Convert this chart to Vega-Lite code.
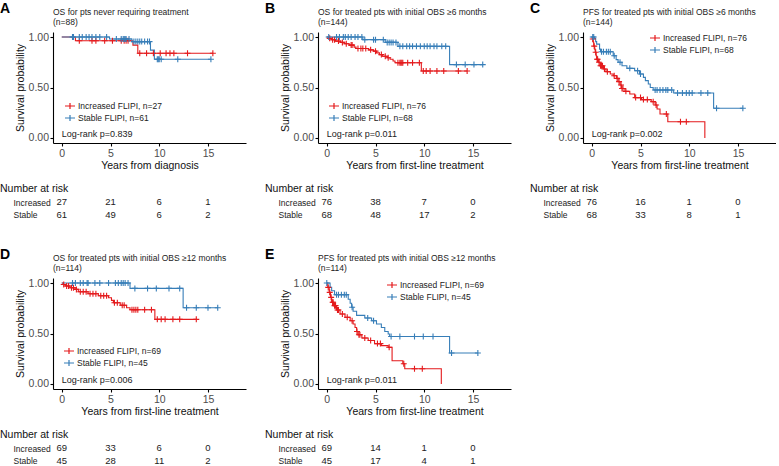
{
"$schema":"https://vega.github.io/schema/vega-lite/v6.json",
"background":"white",
"padding":{"left":0,"top":1,"right":0,"bottom":0},
"config":{
 "view":{"stroke":null},
 "font":"Liberation Sans",
 "axis":{"grid":false,"labelOverlap":false,"domainColor":"#000","tickColor":"#000","domainWidth":1.1,"tickWidth":1.1,"tickSize":3,"labelFont":"Liberation Sans","labelFontSize":10.5,"labelColor":"#4D4D4D","titleFont":"Liberation Sans","titleFontSize":10.5,"titleFontWeight":"normal","titleColor":"#111"},
 "axisX":{"labelPadding":2,"titlePadding":2},
 "axisY":{"labelPadding":1.5,"titlePadding":3},
 "legend":{"labelFont":"Liberation Sans","labelFontSize":8.5,"labelColor":"#222","symbolType":"M-1,0H1M0,-0.6V0.6","symbolSize":100,"symbolStrokeWidth":1.2,"rowPadding":0,"labelOffset":2,"padding":0},
 "title":{"font":"Liberation Sans","fontSize":8.5,"fontWeight":"normal","color":"#222","anchor":"start"}
},
"datasets":{
 "steps":[
  {"p":"A","g":"Increased FLIPI, n=27","t":0,"s":1},{"p":"A","g":"Increased FLIPI, n=27","t":1.4,"s":0.963},{"p":"A","g":"Increased FLIPI, n=27","t":7.3,"s":0.92},{"p":"A","g":"Increased FLIPI, n=27","t":7.8,"s":0.84},{"p":"A","g":"Increased FLIPI, n=27","t":15.5,"s":0.84},
  {"p":"A","g":"Stable FLIPI, n=61","t":0,"s":1},{"p":"A","g":"Stable FLIPI, n=61","t":4.9,"s":0.98},{"p":"A","g":"Stable FLIPI, n=61","t":7.2,"s":0.955},{"p":"A","g":"Stable FLIPI, n=61","t":9.1,"s":0.87},{"p":"A","g":"Stable FLIPI, n=61","t":9.5,"s":0.78},{"p":"A","g":"Stable FLIPI, n=61","t":15.3,"s":0.78},
  {"p":"B","g":"Increased FLIPI, n=76","t":0,"s":1},{"p":"B","g":"Increased FLIPI, n=76","t":0.2,"s":0.987},{"p":"B","g":"Increased FLIPI, n=76","t":0.5,"s":0.973},{"p":"B","g":"Increased FLIPI, n=76","t":0.9,"s":0.96},{"p":"B","g":"Increased FLIPI, n=76","t":1.4,"s":0.947},{"p":"B","g":"Increased FLIPI, n=76","t":1.8,"s":0.933},{"p":"B","g":"Increased FLIPI, n=76","t":2.3,"s":0.92},{"p":"B","g":"Increased FLIPI, n=76","t":2.8,"s":0.9},{"p":"B","g":"Increased FLIPI, n=76","t":3.0,"s":0.887},{"p":"B","g":"Increased FLIPI, n=76","t":4.3,"s":0.873},{"p":"B","g":"Increased FLIPI, n=76","t":4.8,"s":0.86},{"p":"B","g":"Increased FLIPI, n=76","t":5.1,"s":0.843},{"p":"B","g":"Increased FLIPI, n=76","t":5.4,"s":0.826},{"p":"B","g":"Increased FLIPI, n=76","t":5.7,"s":0.81},{"p":"B","g":"Increased FLIPI, n=76","t":6.2,"s":0.795},{"p":"B","g":"Increased FLIPI, n=76","t":6.5,"s":0.78},{"p":"B","g":"Increased FLIPI, n=76","t":6.8,"s":0.762},{"p":"B","g":"Increased FLIPI, n=76","t":7.0,"s":0.745},{"p":"B","g":"Increased FLIPI, n=76","t":9.7,"s":0.664},{"p":"B","g":"Increased FLIPI, n=76","t":14.4,"s":0.664},
  {"p":"B","g":"Stable FLIPI, n=68","t":0,"s":1},{"p":"B","g":"Stable FLIPI, n=68","t":3.7,"s":0.974},{"p":"B","g":"Stable FLIPI, n=68","t":6.0,"s":0.947},{"p":"B","g":"Stable FLIPI, n=68","t":7.3,"s":0.908},{"p":"B","g":"Stable FLIPI, n=68","t":12.6,"s":0.727},{"p":"B","g":"Stable FLIPI, n=68","t":16.0,"s":0.727},
  {"p":"C","g":"Increased FLIPI, n=76","t":0,"s":1},{"p":"C","g":"Increased FLIPI, n=76","t":0.05,"s":0.98},{"p":"C","g":"Increased FLIPI, n=76","t":0.15,"s":0.95},{"p":"C","g":"Increased FLIPI, n=76","t":0.2,"s":0.91},{"p":"C","g":"Increased FLIPI, n=76","t":0.3,"s":0.88},{"p":"C","g":"Increased FLIPI, n=76","t":0.35,"s":0.85},{"p":"C","g":"Increased FLIPI, n=76","t":0.45,"s":0.815},{"p":"C","g":"Increased FLIPI, n=76","t":0.5,"s":0.78},{"p":"C","g":"Increased FLIPI, n=76","t":0.7,"s":0.75},{"p":"C","g":"Increased FLIPI, n=76","t":0.85,"s":0.716},{"p":"C","g":"Increased FLIPI, n=76","t":1.2,"s":0.683},{"p":"C","g":"Increased FLIPI, n=76","t":1.46,"s":0.657},{"p":"C","g":"Increased FLIPI, n=76","t":1.9,"s":0.634},{"p":"C","g":"Increased FLIPI, n=76","t":2.2,"s":0.617},{"p":"C","g":"Increased FLIPI, n=76","t":2.55,"s":0.59},{"p":"C","g":"Increased FLIPI, n=76","t":2.7,"s":0.558},{"p":"C","g":"Increased FLIPI, n=76","t":2.9,"s":0.525},{"p":"C","g":"Increased FLIPI, n=76","t":3.06,"s":0.49},{"p":"C","g":"Increased FLIPI, n=76","t":3.4,"s":0.462},{"p":"C","g":"Increased FLIPI, n=76","t":3.9,"s":0.436},{"p":"C","g":"Increased FLIPI, n=76","t":4.4,"s":0.4},{"p":"C","g":"Increased FLIPI, n=76","t":5.1,"s":0.38},{"p":"C","g":"Increased FLIPI, n=76","t":6.1,"s":0.36},{"p":"C","g":"Increased FLIPI, n=76","t":6.5,"s":0.327},{"p":"C","g":"Increased FLIPI, n=76","t":6.7,"s":0.287},{"p":"C","g":"Increased FLIPI, n=76","t":7.0,"s":0.237},{"p":"C","g":"Increased FLIPI, n=76","t":7.8,"s":0.16},{"p":"C","g":"Increased FLIPI, n=76","t":11.6,"s":0},
  {"p":"C","g":"Stable FLIPI, n=68","t":0,"s":1},{"p":"C","g":"Stable FLIPI, n=68","t":0.3,"s":0.985},{"p":"C","g":"Stable FLIPI, n=68","t":0.4,"s":0.955},{"p":"C","g":"Stable FLIPI, n=68","t":0.5,"s":0.93},{"p":"C","g":"Stable FLIPI, n=68","t":0.8,"s":0.88},{"p":"C","g":"Stable FLIPI, n=68","t":0.9,"s":0.855},{"p":"C","g":"Stable FLIPI, n=68","t":2.2,"s":0.815},{"p":"C","g":"Stable FLIPI, n=68","t":2.5,"s":0.776},{"p":"C","g":"Stable FLIPI, n=68","t":2.7,"s":0.75},{"p":"C","g":"Stable FLIPI, n=68","t":3.1,"s":0.716},{"p":"C","g":"Stable FLIPI, n=68","t":3.6,"s":0.69},{"p":"C","g":"Stable FLIPI, n=68","t":4.4,"s":0.667},{"p":"C","g":"Stable FLIPI, n=68","t":4.9,"s":0.634},{"p":"C","g":"Stable FLIPI, n=68","t":5.3,"s":0.6},{"p":"C","g":"Stable FLIPI, n=68","t":5.5,"s":0.568},{"p":"C","g":"Stable FLIPI, n=68","t":5.8,"s":0.535},{"p":"C","g":"Stable FLIPI, n=68","t":6.0,"s":0.5},{"p":"C","g":"Stable FLIPI, n=68","t":6.3,"s":0.475},{"p":"C","g":"Stable FLIPI, n=68","t":8.4,"s":0.446},{"p":"C","g":"Stable FLIPI, n=68","t":12.5,"s":0.294},{"p":"C","g":"Stable FLIPI, n=68","t":15.5,"s":0.294},
  {"p":"D","g":"Increased FLIPI, n=69","t":0,"s":1},{"p":"D","g":"Increased FLIPI, n=69","t":0.15,"s":0.985},{"p":"D","g":"Increased FLIPI, n=69","t":0.35,"s":0.97},{"p":"D","g":"Increased FLIPI, n=69","t":0.85,"s":0.954},{"p":"D","g":"Increased FLIPI, n=69","t":1.37,"s":0.937},{"p":"D","g":"Increased FLIPI, n=69","t":1.7,"s":0.914},{"p":"D","g":"Increased FLIPI, n=69","t":2.7,"s":0.894},{"p":"D","g":"Increased FLIPI, n=69","t":3.75,"s":0.874},{"p":"D","g":"Increased FLIPI, n=69","t":4.8,"s":0.854},{"p":"D","g":"Increased FLIPI, n=69","t":5.1,"s":0.828},{"p":"D","g":"Increased FLIPI, n=69","t":5.3,"s":0.805},{"p":"D","g":"Increased FLIPI, n=69","t":6.0,"s":0.78},{"p":"D","g":"Increased FLIPI, n=69","t":6.65,"s":0.755},{"p":"D","g":"Increased FLIPI, n=69","t":7.0,"s":0.735},{"p":"D","g":"Increased FLIPI, n=69","t":9.55,"s":0.64},{"p":"D","g":"Increased FLIPI, n=69","t":13.8,"s":0.64},
  {"p":"D","g":"Stable FLIPI, n=45","t":0,"s":1},{"p":"D","g":"Stable FLIPI, n=45","t":7.0,"s":0.947},{"p":"D","g":"Stable FLIPI, n=45","t":12.45,"s":0.755},{"p":"D","g":"Stable FLIPI, n=45","t":16.0,"s":0.755},
  {"p":"E","g":"Increased FLIPI, n=69","t":0,"s":1},{"p":"E","g":"Increased FLIPI, n=69","t":0.1,"s":0.957},{"p":"E","g":"Increased FLIPI, n=69","t":0.25,"s":0.908},{"p":"E","g":"Increased FLIPI, n=69","t":0.38,"s":0.858},{"p":"E","g":"Increased FLIPI, n=69","t":0.5,"s":0.81},{"p":"E","g":"Increased FLIPI, n=69","t":0.7,"s":0.776},{"p":"E","g":"Increased FLIPI, n=69","t":1.0,"s":0.733},{"p":"E","g":"Increased FLIPI, n=69","t":1.36,"s":0.693},{"p":"E","g":"Increased FLIPI, n=69","t":1.87,"s":0.66},{"p":"E","g":"Increased FLIPI, n=69","t":2.4,"s":0.627},{"p":"E","g":"Increased FLIPI, n=69","t":2.7,"s":0.594},{"p":"E","g":"Increased FLIPI, n=69","t":2.9,"s":0.56},{"p":"E","g":"Increased FLIPI, n=69","t":3.06,"s":0.52},{"p":"E","g":"Increased FLIPI, n=69","t":3.2,"s":0.488},{"p":"E","g":"Increased FLIPI, n=69","t":3.6,"s":0.455},{"p":"E","g":"Increased FLIPI, n=69","t":4.25,"s":0.43},{"p":"E","g":"Increased FLIPI, n=69","t":4.9,"s":0.4},{"p":"E","g":"Increased FLIPI, n=69","t":5.6,"s":0.38},{"p":"E","g":"Increased FLIPI, n=69","t":6.3,"s":0.363},{"p":"E","g":"Increased FLIPI, n=69","t":6.7,"s":0.23},{"p":"E","g":"Increased FLIPI, n=69","t":7.8,"s":0.2},{"p":"E","g":"Increased FLIPI, n=69","t":8.0,"s":0.15},{"p":"E","g":"Increased FLIPI, n=69","t":11.75,"s":0},
  {"p":"E","g":"Stable FLIPI, n=45","t":0,"s":1},{"p":"E","g":"Stable FLIPI, n=45","t":0.34,"s":0.957},{"p":"E","g":"Stable FLIPI, n=45","t":0.5,"s":0.924},{"p":"E","g":"Stable FLIPI, n=45","t":0.8,"s":0.885},{"p":"E","g":"Stable FLIPI, n=45","t":2.2,"s":0.84},{"p":"E","g":"Stable FLIPI, n=45","t":2.4,"s":0.8},{"p":"E","g":"Stable FLIPI, n=45","t":2.55,"s":0.76},{"p":"E","g":"Stable FLIPI, n=45","t":2.7,"s":0.72},{"p":"E","g":"Stable FLIPI, n=45","t":3.06,"s":0.68},{"p":"E","g":"Stable FLIPI, n=45","t":3.9,"s":0.653},{"p":"E","g":"Stable FLIPI, n=45","t":4.6,"s":0.627},{"p":"E","g":"Stable FLIPI, n=45","t":5.1,"s":0.594},{"p":"E","g":"Stable FLIPI, n=45","t":5.6,"s":0.56},{"p":"E","g":"Stable FLIPI, n=45","t":5.95,"s":0.52},{"p":"E","g":"Stable FLIPI, n=45","t":6.3,"s":0.495},{"p":"E","g":"Stable FLIPI, n=45","t":6.45,"s":0.47},{"p":"E","g":"Stable FLIPI, n=45","t":12.6,"s":0.307},{"p":"E","g":"Stable FLIPI, n=45","t":15.5,"s":0.307}
 ],
 "censor":[
  {"p":"A","g":"Increased FLIPI, n=27","t":1.8,"s":0.963},{"p":"A","g":"Increased FLIPI, n=27","t":3.1,"s":0.963},{"p":"A","g":"Increased FLIPI, n=27","t":3.5,"s":0.963},{"p":"A","g":"Increased FLIPI, n=27","t":4.4,"s":0.963},{"p":"A","g":"Increased FLIPI, n=27","t":5.2,"s":0.963},{"p":"A","g":"Increased FLIPI, n=27","t":6.1,"s":0.963},{"p":"A","g":"Increased FLIPI, n=27","t":6.4,"s":0.963},{"p":"A","g":"Increased FLIPI, n=27","t":6.6,"s":0.963},{"p":"A","g":"Increased FLIPI, n=27","t":6.8,"s":0.963},{"p":"A","g":"Increased FLIPI, n=27","t":8.0,"s":0.84},{"p":"A","g":"Increased FLIPI, n=27","t":8.7,"s":0.84},{"p":"A","g":"Increased FLIPI, n=27","t":9.4,"s":0.84},{"p":"A","g":"Increased FLIPI, n=27","t":10.1,"s":0.84},{"p":"A","g":"Increased FLIPI, n=27","t":10.7,"s":0.84},{"p":"A","g":"Increased FLIPI, n=27","t":11.1,"s":0.84},{"p":"A","g":"Increased FLIPI, n=27","t":11.5,"s":0.84},{"p":"A","g":"Increased FLIPI, n=27","t":12.9,"s":0.84},{"p":"A","g":"Increased FLIPI, n=27","t":15.5,"s":0.84},
  {"p":"A","g":"Stable FLIPI, n=61","t":1.1,"s":1},{"p":"A","g":"Stable FLIPI, n=61","t":1.2,"s":1},{"p":"A","g":"Stable FLIPI, n=61","t":1.8,"s":1},{"p":"A","g":"Stable FLIPI, n=61","t":2.1,"s":1},{"p":"A","g":"Stable FLIPI, n=61","t":2.5,"s":1},{"p":"A","g":"Stable FLIPI, n=61","t":2.8,"s":1},{"p":"A","g":"Stable FLIPI, n=61","t":3.1,"s":1},{"p":"A","g":"Stable FLIPI, n=61","t":3.5,"s":1},{"p":"A","g":"Stable FLIPI, n=61","t":3.9,"s":1},{"p":"A","g":"Stable FLIPI, n=61","t":4.6,"s":1},{"p":"A","g":"Stable FLIPI, n=61","t":5.6,"s":0.98},{"p":"A","g":"Stable FLIPI, n=61","t":6.1,"s":0.98},{"p":"A","g":"Stable FLIPI, n=61","t":6.3,"s":0.98},{"p":"A","g":"Stable FLIPI, n=61","t":6.4,"s":0.98},{"p":"A","g":"Stable FLIPI, n=61","t":6.5,"s":0.98},{"p":"A","g":"Stable FLIPI, n=61","t":6.6,"s":0.98},{"p":"A","g":"Stable FLIPI, n=61","t":6.9,"s":0.98},{"p":"A","g":"Stable FLIPI, n=61","t":7.4,"s":0.955},{"p":"A","g":"Stable FLIPI, n=61","t":7.6,"s":0.955},{"p":"A","g":"Stable FLIPI, n=61","t":7.8,"s":0.955},{"p":"A","g":"Stable FLIPI, n=61","t":8.0,"s":0.955},{"p":"A","g":"Stable FLIPI, n=61","t":8.2,"s":0.955},{"p":"A","g":"Stable FLIPI, n=61","t":8.5,"s":0.955},{"p":"A","g":"Stable FLIPI, n=61","t":8.8,"s":0.955},{"p":"A","g":"Stable FLIPI, n=61","t":9.0,"s":0.955},{"p":"A","g":"Stable FLIPI, n=61","t":9.8,"s":0.78},{"p":"A","g":"Stable FLIPI, n=61","t":9.9,"s":0.78},{"p":"A","g":"Stable FLIPI, n=61","t":10.0,"s":0.78},{"p":"A","g":"Stable FLIPI, n=61","t":10.2,"s":0.78},{"p":"A","g":"Stable FLIPI, n=61","t":11.9,"s":0.78},{"p":"A","g":"Stable FLIPI, n=61","t":15.3,"s":0.78},
  {"p":"B","g":"Increased FLIPI, n=76","t":0.3,"s":0.987},{"p":"B","g":"Increased FLIPI, n=76","t":0.6,"s":0.973},{"p":"B","g":"Increased FLIPI, n=76","t":0.8,"s":0.973},{"p":"B","g":"Increased FLIPI, n=76","t":1.2,"s":0.96},{"p":"B","g":"Increased FLIPI, n=76","t":1.6,"s":0.947},{"p":"B","g":"Increased FLIPI, n=76","t":2.0,"s":0.933},{"p":"B","g":"Increased FLIPI, n=76","t":2.5,"s":0.92},{"p":"B","g":"Increased FLIPI, n=76","t":2.6,"s":0.92},{"p":"B","g":"Increased FLIPI, n=76","t":3.2,"s":0.887},{"p":"B","g":"Increased FLIPI, n=76","t":3.5,"s":0.887},{"p":"B","g":"Increased FLIPI, n=76","t":3.7,"s":0.887},{"p":"B","g":"Increased FLIPI, n=76","t":4.0,"s":0.887},{"p":"B","g":"Increased FLIPI, n=76","t":4.5,"s":0.873},{"p":"B","g":"Increased FLIPI, n=76","t":5.0,"s":0.86},{"p":"B","g":"Increased FLIPI, n=76","t":5.6,"s":0.826},{"p":"B","g":"Increased FLIPI, n=76","t":6.0,"s":0.81},{"p":"B","g":"Increased FLIPI, n=76","t":6.3,"s":0.795},{"p":"B","g":"Increased FLIPI, n=76","t":7.3,"s":0.745},{"p":"B","g":"Increased FLIPI, n=76","t":7.5,"s":0.745},{"p":"B","g":"Increased FLIPI, n=76","t":7.6,"s":0.745},{"p":"B","g":"Increased FLIPI, n=76","t":7.7,"s":0.745},{"p":"B","g":"Increased FLIPI, n=76","t":7.8,"s":0.745},{"p":"B","g":"Increased FLIPI, n=76","t":8.3,"s":0.745},{"p":"B","g":"Increased FLIPI, n=76","t":8.8,"s":0.745},{"p":"B","g":"Increased FLIPI, n=76","t":9.5,"s":0.745},{"p":"B","g":"Increased FLIPI, n=76","t":9.9,"s":0.664},{"p":"B","g":"Increased FLIPI, n=76","t":10.2,"s":0.664},{"p":"B","g":"Increased FLIPI, n=76","t":10.6,"s":0.664},{"p":"B","g":"Increased FLIPI, n=76","t":11.3,"s":0.664},{"p":"B","g":"Increased FLIPI, n=76","t":12.0,"s":0.664},{"p":"B","g":"Increased FLIPI, n=76","t":13.5,"s":0.664},{"p":"B","g":"Increased FLIPI, n=76","t":14.4,"s":0.664},
  {"p":"B","g":"Stable FLIPI, n=68","t":0.2,"s":1},{"p":"B","g":"Stable FLIPI, n=68","t":1.0,"s":1},{"p":"B","g":"Stable FLIPI, n=68","t":1.3,"s":1},{"p":"B","g":"Stable FLIPI, n=68","t":1.7,"s":1},{"p":"B","g":"Stable FLIPI, n=68","t":1.9,"s":1},{"p":"B","g":"Stable FLIPI, n=68","t":2.2,"s":1},{"p":"B","g":"Stable FLIPI, n=68","t":2.5,"s":1},{"p":"B","g":"Stable FLIPI, n=68","t":2.9,"s":1},{"p":"B","g":"Stable FLIPI, n=68","t":3.2,"s":1},{"p":"B","g":"Stable FLIPI, n=68","t":3.6,"s":1},{"p":"B","g":"Stable FLIPI, n=68","t":3.9,"s":0.974},{"p":"B","g":"Stable FLIPI, n=68","t":4.8,"s":0.974},{"p":"B","g":"Stable FLIPI, n=68","t":5.0,"s":0.974},{"p":"B","g":"Stable FLIPI, n=68","t":5.8,"s":0.974},{"p":"B","g":"Stable FLIPI, n=68","t":6.2,"s":0.947},{"p":"B","g":"Stable FLIPI, n=68","t":6.4,"s":0.947},{"p":"B","g":"Stable FLIPI, n=68","t":6.6,"s":0.947},{"p":"B","g":"Stable FLIPI, n=68","t":6.8,"s":0.947},{"p":"B","g":"Stable FLIPI, n=68","t":7.1,"s":0.947},{"p":"B","g":"Stable FLIPI, n=68","t":7.5,"s":0.908},{"p":"B","g":"Stable FLIPI, n=68","t":7.8,"s":0.908},{"p":"B","g":"Stable FLIPI, n=68","t":8.2,"s":0.908},{"p":"B","g":"Stable FLIPI, n=68","t":8.5,"s":0.908},{"p":"B","g":"Stable FLIPI, n=68","t":8.8,"s":0.908},{"p":"B","g":"Stable FLIPI, n=68","t":9.2,"s":0.908},{"p":"B","g":"Stable FLIPI, n=68","t":9.6,"s":0.908},{"p":"B","g":"Stable FLIPI, n=68","t":10.0,"s":0.908},{"p":"B","g":"Stable FLIPI, n=68","t":10.3,"s":0.908},{"p":"B","g":"Stable FLIPI, n=68","t":10.6,"s":0.908},{"p":"B","g":"Stable FLIPI, n=68","t":11.0,"s":0.908},{"p":"B","g":"Stable FLIPI, n=68","t":11.3,"s":0.908},{"p":"B","g":"Stable FLIPI, n=68","t":11.8,"s":0.908},{"p":"B","g":"Stable FLIPI, n=68","t":12.2,"s":0.908},{"p":"B","g":"Stable FLIPI, n=68","t":13.3,"s":0.727},{"p":"B","g":"Stable FLIPI, n=68","t":14.2,"s":0.727},{"p":"B","g":"Stable FLIPI, n=68","t":15.1,"s":0.727},{"p":"B","g":"Stable FLIPI, n=68","t":16.0,"s":0.727},
  {"p":"C","g":"Increased FLIPI, n=76","t":0.1,"s":0.98},{"p":"C","g":"Increased FLIPI, n=76","t":0.25,"s":0.91},{"p":"C","g":"Increased FLIPI, n=76","t":0.4,"s":0.85},{"p":"C","g":"Increased FLIPI, n=76","t":0.55,"s":0.78},{"p":"C","g":"Increased FLIPI, n=76","t":0.6,"s":0.78},{"p":"C","g":"Increased FLIPI, n=76","t":0.75,"s":0.75},{"p":"C","g":"Increased FLIPI, n=76","t":0.9,"s":0.716},{"p":"C","g":"Increased FLIPI, n=76","t":1.0,"s":0.716},{"p":"C","g":"Increased FLIPI, n=76","t":1.1,"s":0.716},{"p":"C","g":"Increased FLIPI, n=76","t":1.3,"s":0.683},{"p":"C","g":"Increased FLIPI, n=76","t":1.6,"s":0.657},{"p":"C","g":"Increased FLIPI, n=76","t":2.3,"s":0.617},{"p":"C","g":"Increased FLIPI, n=76","t":2.6,"s":0.59},{"p":"C","g":"Increased FLIPI, n=76","t":2.8,"s":0.558},{"p":"C","g":"Increased FLIPI, n=76","t":3.0,"s":0.525},{"p":"C","g":"Increased FLIPI, n=76","t":3.1,"s":0.49},{"p":"C","g":"Increased FLIPI, n=76","t":3.2,"s":0.49},{"p":"C","g":"Increased FLIPI, n=76","t":3.5,"s":0.462},{"p":"C","g":"Increased FLIPI, n=76","t":4.5,"s":0.4},{"p":"C","g":"Increased FLIPI, n=76","t":5.0,"s":0.4},{"p":"C","g":"Increased FLIPI, n=76","t":5.3,"s":0.38},{"p":"C","g":"Increased FLIPI, n=76","t":5.7,"s":0.38},{"p":"C","g":"Increased FLIPI, n=76","t":6.3,"s":0.36},{"p":"C","g":"Increased FLIPI, n=76","t":6.6,"s":0.327},{"p":"C","g":"Increased FLIPI, n=76","t":7.65,"s":0.237},{"p":"C","g":"Increased FLIPI, n=76","t":9.1,"s":0.16},{"p":"C","g":"Increased FLIPI, n=76","t":9.7,"s":0.16},
  {"p":"C","g":"Stable FLIPI, n=68","t":0.1,"s":1},{"p":"C","g":"Stable FLIPI, n=68","t":0.2,"s":1},{"p":"C","g":"Stable FLIPI, n=68","t":1.0,"s":0.855},{"p":"C","g":"Stable FLIPI, n=68","t":1.2,"s":0.855},{"p":"C","g":"Stable FLIPI, n=68","t":1.5,"s":0.855},{"p":"C","g":"Stable FLIPI, n=68","t":1.7,"s":0.855},{"p":"C","g":"Stable FLIPI, n=68","t":1.9,"s":0.855},{"p":"C","g":"Stable FLIPI, n=68","t":2.3,"s":0.815},{"p":"C","g":"Stable FLIPI, n=68","t":2.9,"s":0.75},{"p":"C","g":"Stable FLIPI, n=68","t":3.9,"s":0.69},{"p":"C","g":"Stable FLIPI, n=68","t":4.7,"s":0.667},{"p":"C","g":"Stable FLIPI, n=68","t":5.0,"s":0.634},{"p":"C","g":"Stable FLIPI, n=68","t":6.5,"s":0.475},{"p":"C","g":"Stable FLIPI, n=68","t":6.7,"s":0.475},{"p":"C","g":"Stable FLIPI, n=68","t":7.0,"s":0.475},{"p":"C","g":"Stable FLIPI, n=68","t":7.3,"s":0.475},{"p":"C","g":"Stable FLIPI, n=68","t":7.6,"s":0.475},{"p":"C","g":"Stable FLIPI, n=68","t":7.8,"s":0.475},{"p":"C","g":"Stable FLIPI, n=68","t":8.2,"s":0.475},{"p":"C","g":"Stable FLIPI, n=68","t":8.8,"s":0.446},{"p":"C","g":"Stable FLIPI, n=68","t":9.3,"s":0.446},{"p":"C","g":"Stable FLIPI, n=68","t":9.7,"s":0.446},{"p":"C","g":"Stable FLIPI, n=68","t":10.0,"s":0.446},{"p":"C","g":"Stable FLIPI, n=68","t":10.3,"s":0.446},{"p":"C","g":"Stable FLIPI, n=68","t":11.2,"s":0.446},{"p":"C","g":"Stable FLIPI, n=68","t":11.9,"s":0.446},{"p":"C","g":"Stable FLIPI, n=68","t":12.8,"s":0.294},{"p":"C","g":"Stable FLIPI, n=68","t":15.5,"s":0.294},
  {"p":"D","g":"Increased FLIPI, n=69","t":0.2,"s":0.985},{"p":"D","g":"Increased FLIPI, n=69","t":0.5,"s":0.97},{"p":"D","g":"Increased FLIPI, n=69","t":0.7,"s":0.97},{"p":"D","g":"Increased FLIPI, n=69","t":1.0,"s":0.954},{"p":"D","g":"Increased FLIPI, n=69","t":1.2,"s":0.954},{"p":"D","g":"Increased FLIPI, n=69","t":1.5,"s":0.937},{"p":"D","g":"Increased FLIPI, n=69","t":1.9,"s":0.914},{"p":"D","g":"Increased FLIPI, n=69","t":2.2,"s":0.914},{"p":"D","g":"Increased FLIPI, n=69","t":2.5,"s":0.914},{"p":"D","g":"Increased FLIPI, n=69","t":2.9,"s":0.894},{"p":"D","g":"Increased FLIPI, n=69","t":3.2,"s":0.894},{"p":"D","g":"Increased FLIPI, n=69","t":3.5,"s":0.894},{"p":"D","g":"Increased FLIPI, n=69","t":4.0,"s":0.874},{"p":"D","g":"Increased FLIPI, n=69","t":4.3,"s":0.874},{"p":"D","g":"Increased FLIPI, n=69","t":4.6,"s":0.874},{"p":"D","g":"Increased FLIPI, n=69","t":5.4,"s":0.805},{"p":"D","g":"Increased FLIPI, n=69","t":5.7,"s":0.805},{"p":"D","g":"Increased FLIPI, n=69","t":6.2,"s":0.78},{"p":"D","g":"Increased FLIPI, n=69","t":6.4,"s":0.78},{"p":"D","g":"Increased FLIPI, n=69","t":7.2,"s":0.735},{"p":"D","g":"Increased FLIPI, n=69","t":7.4,"s":0.735},{"p":"D","g":"Increased FLIPI, n=69","t":7.6,"s":0.735},{"p":"D","g":"Increased FLIPI, n=69","t":7.8,"s":0.735},{"p":"D","g":"Increased FLIPI, n=69","t":8.5,"s":0.735},{"p":"D","g":"Increased FLIPI, n=69","t":9.2,"s":0.735},{"p":"D","g":"Increased FLIPI, n=69","t":9.8,"s":0.64},{"p":"D","g":"Increased FLIPI, n=69","t":10.2,"s":0.64},{"p":"D","g":"Increased FLIPI, n=69","t":10.6,"s":0.64},{"p":"D","g":"Increased FLIPI, n=69","t":11.4,"s":0.64},{"p":"D","g":"Increased FLIPI, n=69","t":12.1,"s":0.64},{"p":"D","g":"Increased FLIPI, n=69","t":13.8,"s":0.64},
  {"p":"D","g":"Stable FLIPI, n=45","t":1.1,"s":1},{"p":"D","g":"Stable FLIPI, n=45","t":1.4,"s":1},{"p":"D","g":"Stable FLIPI, n=45","t":1.9,"s":1},{"p":"D","g":"Stable FLIPI, n=45","t":2.2,"s":1},{"p":"D","g":"Stable FLIPI, n=45","t":2.6,"s":1},{"p":"D","g":"Stable FLIPI, n=45","t":2.7,"s":1},{"p":"D","g":"Stable FLIPI, n=45","t":3.4,"s":1},{"p":"D","g":"Stable FLIPI, n=45","t":3.9,"s":1},{"p":"D","g":"Stable FLIPI, n=45","t":4.8,"s":1},{"p":"D","g":"Stable FLIPI, n=45","t":5.5,"s":1},{"p":"D","g":"Stable FLIPI, n=45","t":5.8,"s":1},{"p":"D","g":"Stable FLIPI, n=45","t":6.1,"s":1},{"p":"D","g":"Stable FLIPI, n=45","t":6.3,"s":1},{"p":"D","g":"Stable FLIPI, n=45","t":6.5,"s":1},{"p":"D","g":"Stable FLIPI, n=45","t":6.8,"s":1},{"p":"D","g":"Stable FLIPI, n=45","t":7.5,"s":0.947},{"p":"D","g":"Stable FLIPI, n=45","t":8.8,"s":0.947},{"p":"D","g":"Stable FLIPI, n=45","t":9.7,"s":0.947},{"p":"D","g":"Stable FLIPI, n=45","t":11.0,"s":0.947},{"p":"D","g":"Stable FLIPI, n=45","t":12.1,"s":0.947},{"p":"D","g":"Stable FLIPI, n=45","t":12.8,"s":0.755},{"p":"D","g":"Stable FLIPI, n=45","t":13.8,"s":0.755},{"p":"D","g":"Stable FLIPI, n=45","t":15.0,"s":0.755},{"p":"D","g":"Stable FLIPI, n=45","t":16.0,"s":0.755},
  {"p":"E","g":"Increased FLIPI, n=69","t":0.15,"s":0.957},{"p":"E","g":"Increased FLIPI, n=69","t":0.3,"s":0.908},{"p":"E","g":"Increased FLIPI, n=69","t":0.45,"s":0.858},{"p":"E","g":"Increased FLIPI, n=69","t":0.6,"s":0.81},{"p":"E","g":"Increased FLIPI, n=69","t":0.65,"s":0.81},{"p":"E","g":"Increased FLIPI, n=69","t":0.8,"s":0.776},{"p":"E","g":"Increased FLIPI, n=69","t":0.9,"s":0.776},{"p":"E","g":"Increased FLIPI, n=69","t":1.1,"s":0.733},{"p":"E","g":"Increased FLIPI, n=69","t":1.2,"s":0.733},{"p":"E","g":"Increased FLIPI, n=69","t":1.6,"s":0.693},{"p":"E","g":"Increased FLIPI, n=69","t":2.1,"s":0.66},{"p":"E","g":"Increased FLIPI, n=69","t":2.6,"s":0.627},{"p":"E","g":"Increased FLIPI, n=69","t":3.1,"s":0.52},{"p":"E","g":"Increased FLIPI, n=69","t":3.3,"s":0.488},{"p":"E","g":"Increased FLIPI, n=69","t":3.4,"s":0.488},{"p":"E","g":"Increased FLIPI, n=69","t":3.9,"s":0.455},{"p":"E","g":"Increased FLIPI, n=69","t":4.5,"s":0.43},{"p":"E","g":"Increased FLIPI, n=69","t":5.2,"s":0.4},{"p":"E","g":"Increased FLIPI, n=69","t":5.5,"s":0.4},{"p":"E","g":"Increased FLIPI, n=69","t":6.4,"s":0.363},{"p":"E","g":"Increased FLIPI, n=69","t":7.9,"s":0.2},{"p":"E","g":"Increased FLIPI, n=69","t":9.0,"s":0.15},{"p":"E","g":"Increased FLIPI, n=69","t":9.8,"s":0.15},
  {"p":"E","g":"Stable FLIPI, n=45","t":0.0,"s":1},{"p":"E","g":"Stable FLIPI, n=45","t":1.0,"s":0.885},{"p":"E","g":"Stable FLIPI, n=45","t":1.2,"s":0.885},{"p":"E","g":"Stable FLIPI, n=45","t":1.5,"s":0.885},{"p":"E","g":"Stable FLIPI, n=45","t":1.8,"s":0.885},{"p":"E","g":"Stable FLIPI, n=45","t":2.0,"s":0.885},{"p":"E","g":"Stable FLIPI, n=45","t":2.6,"s":0.76},{"p":"E","g":"Stable FLIPI, n=45","t":4.2,"s":0.653},{"p":"E","g":"Stable FLIPI, n=45","t":4.8,"s":0.627},{"p":"E","g":"Stable FLIPI, n=45","t":6.6,"s":0.47},{"p":"E","g":"Stable FLIPI, n=45","t":7.5,"s":0.47},{"p":"E","g":"Stable FLIPI, n=45","t":9.0,"s":0.47},{"p":"E","g":"Stable FLIPI, n=45","t":9.9,"s":0.47},{"p":"E","g":"Stable FLIPI, n=45","t":10.9,"s":0.47},{"p":"E","g":"Stable FLIPI, n=45","t":12.8,"s":0.307},{"p":"E","g":"Stable FLIPI, n=45","t":15.5,"s":0.307}
 ],
 "notes":[
  {"p":"A","label":"Log-rank p=0.839"},{"p":"B","label":"Log-rank p=0.011"},{"p":"C","label":"Log-rank p=0.002"},{"p":"D","label":"Log-rank p=0.006"},{"p":"E","label":"Log-rank p=0.011"}
 ],
 "risk":[
  {"p":"A","grp":"Increased","t":0,"n":27},{"p":"A","grp":"Increased","t":5,"n":21},{"p":"A","grp":"Increased","t":10,"n":6},{"p":"A","grp":"Increased","t":15,"n":1},
  {"p":"A","grp":"Stable","t":0,"n":61},{"p":"A","grp":"Stable","t":5,"n":49},{"p":"A","grp":"Stable","t":10,"n":6},{"p":"A","grp":"Stable","t":15,"n":2},
  {"p":"B","grp":"Increased","t":0,"n":76},{"p":"B","grp":"Increased","t":5,"n":38},{"p":"B","grp":"Increased","t":10,"n":7},{"p":"B","grp":"Increased","t":15,"n":0},
  {"p":"B","grp":"Stable","t":0,"n":68},{"p":"B","grp":"Stable","t":5,"n":48},{"p":"B","grp":"Stable","t":10,"n":17},{"p":"B","grp":"Stable","t":15,"n":2},
  {"p":"C","grp":"Increased","t":0,"n":76},{"p":"C","grp":"Increased","t":5,"n":16},{"p":"C","grp":"Increased","t":10,"n":1},{"p":"C","grp":"Increased","t":15,"n":0},
  {"p":"C","grp":"Stable","t":0,"n":68},{"p":"C","grp":"Stable","t":5,"n":33},{"p":"C","grp":"Stable","t":10,"n":8},{"p":"C","grp":"Stable","t":15,"n":1},
  {"p":"D","grp":"Increased","t":0,"n":69},{"p":"D","grp":"Increased","t":5,"n":33},{"p":"D","grp":"Increased","t":10,"n":6},{"p":"D","grp":"Increased","t":15,"n":0},
  {"p":"D","grp":"Stable","t":0,"n":45},{"p":"D","grp":"Stable","t":5,"n":28},{"p":"D","grp":"Stable","t":10,"n":11},{"p":"D","grp":"Stable","t":15,"n":2},
  {"p":"E","grp":"Increased","t":0,"n":69},{"p":"E","grp":"Increased","t":5,"n":14},{"p":"E","grp":"Increased","t":10,"n":1},{"p":"E","grp":"Increased","t":15,"n":0},
  {"p":"E","grp":"Stable","t":0,"n":45},{"p":"E","grp":"Stable","t":5,"n":17},{"p":"E","grp":"Stable","t":10,"n":4},{"p":"E","grp":"Stable","t":15,"n":1}
 ]
},
"spacing":26,
"resolve":{"scale":{"color":"independent"}},
"vconcat":[
 {"spacing":19,"resolve":{"scale":{"color":"independent"}},"hconcat":[
  {"title":{"text":"A","frame":"bounds","fontSize":14,"fontWeight":"bold","color":"#000","offset":-19,"baseline":"alphabetic"},"spacing":12,"vconcat":[
   {"width":193,"height":111,"title":{"text":["OS for pts never requiring treatment","(n=88)"],"frame":"group","lineHeight":10.5,"offset":5},
    "layer":[
     {"data":{"name":"steps"},"transform":[{"filter":"datum.p==='A'"}],"mark":{"type":"line","interpolate":"step-after","strokeWidth":1.1},
      "encoding":{"x":{"field":"t","type":"quantitative","scale":{"domain":[-0.9,18.9],"nice":false,"zero":false},"axis":{"values":[0,5,10,15],"title":"Years from diagnosis"}},
       "y":{"field":"s","type":"quantitative","scale":{"domain":[-0.05,1.05],"nice":false,"zero":false},"axis":{"values":[0,0.25,0.5,0.75,1],"format":".2f","title":"Survival probability"}},
       "color":{"field":"g","type":"nominal","scale":{"range":["#E41A1C","#377EB8"]},"legend":{"title":null,"orient":"none","legendX":11,"legendY":68}}}},
     {"data":{"name":"censor"},"transform":[{"filter":"datum.p==='A'"}],"mark":{"type":"point","shape":"M-1,0H1M0,-1V1","filled":false,"size":36,"strokeWidth":1.1,"opacity":1},
      "encoding":{"x":{"field":"t","type":"quantitative"},"y":{"field":"s","type":"quantitative"},"color":{"field":"g","type":"nominal"}}},
     {"data":{"name":"notes"},"transform":[{"filter":"datum.p==='A'"}],"mark":{"type":"text","align":"left","baseline":"middle","fontSize":9,"font":"Liberation Sans","color":"#222"},
      "encoding":{"x":{"datum":0},"y":{"datum":0.04},"text":{"field":"label"}}}
    ]},
   {"width":193,"height":25,"data":{"name":"risk"},"transform":[{"filter":"datum.p==='A'"}],
    "title":{"text":"Number at risk","frame":"bounds","fontSize":10.5,"color":"#111","offset":2,"dx":-13},
    "mark":{"type":"text","fontSize":9.5,"font":"Liberation Sans","color":"#222"},
    "encoding":{"x":{"field":"t","type":"quantitative","scale":{"domain":[-0.9,18.9],"nice":false,"zero":false},"axis":null},
     "y":{"field":"grp","type":"nominal","sort":["Increased","Stable"],"scale":{"type":"point","padding":0.5},"axis":{"title":null,"domain":false,"ticks":false,"tickSize":0,"labelAlign":"left","labelPadding":40,"labelFontSize":8.5,"labelColor":"#222"}},
     "text":{"field":"n","type":"quantitative"}}}
  ]},
  {"title":{"text":"B","frame":"bounds","fontSize":14,"fontWeight":"bold","color":"#000","offset":-19,"baseline":"alphabetic"},"spacing":12,"vconcat":[
   {"width":193,"height":111,"title":{"text":["OS for treated pts with initial OBS ≥6 months","(n=144)"],"frame":"group","lineHeight":10.5,"offset":5},
    "layer":[
     {"data":{"name":"steps"},"transform":[{"filter":"datum.p==='B'"}],"mark":{"type":"line","interpolate":"step-after","strokeWidth":1.1},
      "encoding":{"x":{"field":"t","type":"quantitative","scale":{"domain":[-0.9,18.9],"nice":false,"zero":false},"axis":{"values":[0,5,10,15],"title":"Years from first-line treatment"}},
       "y":{"field":"s","type":"quantitative","scale":{"domain":[-0.05,1.05],"nice":false,"zero":false},"axis":{"values":[0,0.25,0.5,0.75,1],"format":".2f","title":"Survival probability"}},
       "color":{"field":"g","type":"nominal","scale":{"range":["#E41A1C","#377EB8"]},"legend":{"title":null,"orient":"none","legendX":10,"legendY":68}}}},
     {"data":{"name":"censor"},"transform":[{"filter":"datum.p==='B'"}],"mark":{"type":"point","shape":"M-1,0H1M0,-1V1","filled":false,"size":36,"strokeWidth":1.1,"opacity":1},
      "encoding":{"x":{"field":"t","type":"quantitative"},"y":{"field":"s","type":"quantitative"},"color":{"field":"g","type":"nominal"}}},
     {"data":{"name":"notes"},"transform":[{"filter":"datum.p==='B'"}],"mark":{"type":"text","align":"left","baseline":"middle","fontSize":9,"font":"Liberation Sans","color":"#222"},
      "encoding":{"x":{"datum":0},"y":{"datum":0.04},"text":{"field":"label"}}}
    ]},
   {"width":193,"height":25,"data":{"name":"risk"},"transform":[{"filter":"datum.p==='B'"}],
    "title":{"text":"Number at risk","frame":"bounds","fontSize":10.5,"color":"#111","offset":2,"dx":-13},
    "mark":{"type":"text","fontSize":9.5,"font":"Liberation Sans","color":"#222"},
    "encoding":{"x":{"field":"t","type":"quantitative","scale":{"domain":[-0.9,18.9],"nice":false,"zero":false},"axis":null},
     "y":{"field":"grp","type":"nominal","sort":["Increased","Stable"],"scale":{"type":"point","padding":0.5},"axis":{"title":null,"domain":false,"ticks":false,"tickSize":0,"labelAlign":"left","labelPadding":40,"labelFontSize":8.5,"labelColor":"#222"}},
     "text":{"field":"n","type":"quantitative"}}}
  ]},
  {"title":{"text":"C","frame":"bounds","fontSize":14,"fontWeight":"bold","color":"#000","offset":-19,"baseline":"alphabetic"},"spacing":12,"vconcat":[
   {"width":193,"height":111,"title":{"text":["PFS for treated pts with initial OBS ≥6 months","(n=144)"],"frame":"group","lineHeight":10.5,"offset":5},
    "layer":[
     {"data":{"name":"steps"},"transform":[{"filter":"datum.p==='C'"}],"mark":{"type":"line","interpolate":"step-after","strokeWidth":1.1},
      "encoding":{"x":{"field":"t","type":"quantitative","scale":{"domain":[-0.9,18.9],"nice":false,"zero":false},"axis":{"values":[0,5,10,15],"title":"Years from first-line treatment"}},
       "y":{"field":"s","type":"quantitative","scale":{"domain":[-0.05,1.05],"nice":false,"zero":false},"axis":{"values":[0,0.25,0.5,0.75,1],"format":".2f","title":"Survival probability"}},
       "color":{"field":"g","type":"nominal","scale":{"range":["#E41A1C","#377EB8"]},"legend":{"title":null,"orient":"none","legendX":66,"legendY":0}}}},
     {"data":{"name":"censor"},"transform":[{"filter":"datum.p==='C'"}],"mark":{"type":"point","shape":"M-1,0H1M0,-1V1","filled":false,"size":36,"strokeWidth":1.1,"opacity":1},
      "encoding":{"x":{"field":"t","type":"quantitative"},"y":{"field":"s","type":"quantitative"},"color":{"field":"g","type":"nominal"}}},
     {"data":{"name":"notes"},"transform":[{"filter":"datum.p==='C'"}],"mark":{"type":"text","align":"left","baseline":"middle","fontSize":9,"font":"Liberation Sans","color":"#222"},
      "encoding":{"x":{"datum":0},"y":{"datum":0.04},"text":{"field":"label"}}}
    ]},
   {"width":193,"height":25,"data":{"name":"risk"},"transform":[{"filter":"datum.p==='C'"}],
    "title":{"text":"Number at risk","frame":"bounds","fontSize":10.5,"color":"#111","offset":2,"dx":-13},
    "mark":{"type":"text","fontSize":9.5,"font":"Liberation Sans","color":"#222"},
    "encoding":{"x":{"field":"t","type":"quantitative","scale":{"domain":[-0.9,18.9],"nice":false,"zero":false},"axis":null},
     "y":{"field":"grp","type":"nominal","sort":["Increased","Stable"],"scale":{"type":"point","padding":0.5},"axis":{"title":null,"domain":false,"ticks":false,"tickSize":0,"labelAlign":"left","labelPadding":40,"labelFontSize":8.5,"labelColor":"#222"}},
     "text":{"field":"n","type":"quantitative"}}}
  ]}
 ]},
 {"spacing":19,"resolve":{"scale":{"color":"independent"}},"hconcat":[
  {"title":{"text":"D","frame":"bounds","fontSize":14,"fontWeight":"bold","color":"#000","offset":-19,"baseline":"alphabetic"},"spacing":12,"vconcat":[
   {"width":193,"height":111,"title":{"text":["OS for treated pts with initial OBS ≥12 months","(n=114)"],"frame":"group","lineHeight":10.5,"offset":5},
    "layer":[
     {"data":{"name":"steps"},"transform":[{"filter":"datum.p==='D'"}],"mark":{"type":"line","interpolate":"step-after","strokeWidth":1.1},
      "encoding":{"x":{"field":"t","type":"quantitative","scale":{"domain":[-0.9,18.9],"nice":false,"zero":false},"axis":{"values":[0,5,10,15],"title":"Years from first-line treatment"}},
       "y":{"field":"s","type":"quantitative","scale":{"domain":[-0.05,1.05],"nice":false,"zero":false},"axis":{"values":[0,0.25,0.5,0.75,1],"format":".2f","title":"Survival probability"}},
       "color":{"field":"g","type":"nominal","scale":{"range":["#E41A1C","#377EB8"]},"legend":{"title":null,"orient":"none","legendX":10,"legendY":67}}}},
     {"data":{"name":"censor"},"transform":[{"filter":"datum.p==='D'"}],"mark":{"type":"point","shape":"M-1,0H1M0,-1V1","filled":false,"size":36,"strokeWidth":1.1,"opacity":1},
      "encoding":{"x":{"field":"t","type":"quantitative"},"y":{"field":"s","type":"quantitative"},"color":{"field":"g","type":"nominal"}}},
     {"data":{"name":"notes"},"transform":[{"filter":"datum.p==='D'"}],"mark":{"type":"text","align":"left","baseline":"middle","fontSize":9,"font":"Liberation Sans","color":"#222"},
      "encoding":{"x":{"datum":0},"y":{"datum":0.04},"text":{"field":"label"}}}
    ]},
   {"width":193,"height":25,"data":{"name":"risk"},"transform":[{"filter":"datum.p==='D'"}],
    "title":{"text":"Number at risk","frame":"bounds","fontSize":10.5,"color":"#111","offset":2,"dx":-13},
    "mark":{"type":"text","fontSize":9.5,"font":"Liberation Sans","color":"#222"},
    "encoding":{"x":{"field":"t","type":"quantitative","scale":{"domain":[-0.9,18.9],"nice":false,"zero":false},"axis":null},
     "y":{"field":"grp","type":"nominal","sort":["Increased","Stable"],"scale":{"type":"point","padding":0.5},"axis":{"title":null,"domain":false,"ticks":false,"tickSize":0,"labelAlign":"left","labelPadding":40,"labelFontSize":8.5,"labelColor":"#222"}},
     "text":{"field":"n","type":"quantitative"}}}
  ]},
  {"title":{"text":"E","frame":"bounds","fontSize":14,"fontWeight":"bold","color":"#000","offset":-19,"baseline":"alphabetic"},"spacing":12,"vconcat":[
   {"width":193,"height":111,"title":{"text":["PFS for treated pts with initial OBS ≥12 months","(n=114)"],"frame":"group","lineHeight":10.5,"offset":5},
    "layer":[
     {"data":{"name":"steps"},"transform":[{"filter":"datum.p==='E'"}],"mark":{"type":"line","interpolate":"step-after","strokeWidth":1.1},
      "encoding":{"x":{"field":"t","type":"quantitative","scale":{"domain":[-0.9,18.9],"nice":false,"zero":false},"axis":{"values":[0,5,10,15],"title":"Years from first-line treatment"}},
       "y":{"field":"s","type":"quantitative","scale":{"domain":[-0.05,1.05],"nice":false,"zero":false},"axis":{"values":[0,0.25,0.5,0.75,1],"format":".2f","title":"Survival probability"}},
       "color":{"field":"g","type":"nominal","scale":{"range":["#E41A1C","#377EB8"]},"legend":{"title":null,"orient":"none","legendX":68,"legendY":1}}}},
     {"data":{"name":"censor"},"transform":[{"filter":"datum.p==='E'"}],"mark":{"type":"point","shape":"M-1,0H1M0,-1V1","filled":false,"size":36,"strokeWidth":1.1,"opacity":1},
      "encoding":{"x":{"field":"t","type":"quantitative"},"y":{"field":"s","type":"quantitative"},"color":{"field":"g","type":"nominal"}}},
     {"data":{"name":"notes"},"transform":[{"filter":"datum.p==='E'"}],"mark":{"type":"text","align":"left","baseline":"middle","fontSize":9,"font":"Liberation Sans","color":"#222"},
      "encoding":{"x":{"datum":0},"y":{"datum":0.04},"text":{"field":"label"}}}
    ]},
   {"width":193,"height":25,"data":{"name":"risk"},"transform":[{"filter":"datum.p==='E'"}],
    "title":{"text":"Number at risk","frame":"bounds","fontSize":10.5,"color":"#111","offset":2,"dx":-13},
    "mark":{"type":"text","fontSize":9.5,"font":"Liberation Sans","color":"#222"},
    "encoding":{"x":{"field":"t","type":"quantitative","scale":{"domain":[-0.9,18.9],"nice":false,"zero":false},"axis":null},
     "y":{"field":"grp","type":"nominal","sort":["Increased","Stable"],"scale":{"type":"point","padding":0.5},"axis":{"title":null,"domain":false,"ticks":false,"tickSize":0,"labelAlign":"left","labelPadding":40,"labelFontSize":8.5,"labelColor":"#222"}},
     "text":{"field":"n","type":"quantitative"}}}
  ]}
 ]}
]
}
